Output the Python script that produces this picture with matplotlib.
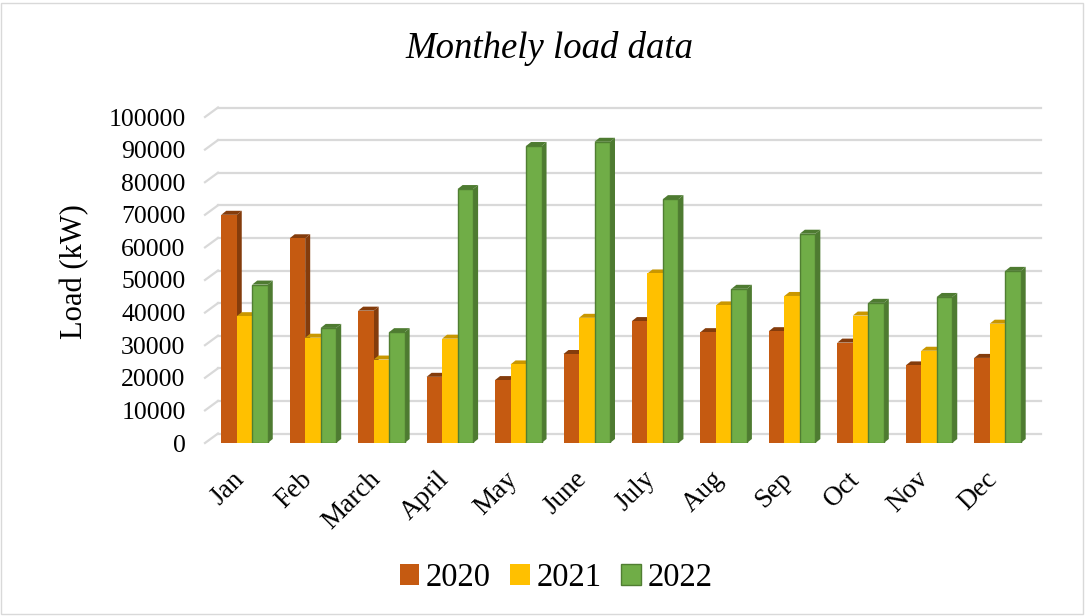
import numpy as np
import matplotlib.pyplot as plt
from matplotlib.patches import Rectangle
from matplotlib.transforms import ScaledTranslation

# monthly load values (kW)
months = ['Jan', 'Feb', 'March', 'April', 'May', 'June', 'July', 'Aug', 'Sep', 'Oct', 'Nov', 'Dec']
load_2020 = [70000, 62800, 40600, 20300, 19300, 27300, 37400, 34000, 34300, 30800, 23800, 26100]
load_2021 = [38900, 32300, 25600, 32000, 24100, 38400, 52000, 42200, 45100, 39100, 28300, 36600]
load_2022 = [48600, 35300, 34000, 77900, 91100, 92400, 74800, 47300, 64200, 43000, 44800, 52800]
years = ['2020', '2021', '2022']
yticks = list(range(0, 100001, 10000))

front_col = ['#C55A11', '#FFC000', '#70AD47']
side_col = ['#843C0C', '#C99700', '#4E7B31']
edge_col = ['#C55A11', '#FFC000', '#507E32']

serif = ['Liberation Serif', 'DejaVu Serif']
plt.rcParams['font.family'] = serif

W, H = 1086, 616
fig = plt.figure(figsize=(W / 100, H / 100), dpi=100)

# pixel geometry of the plot
px_x = 68.45          # pixels per category
px_y = 3.26 / 1000    # pixels per kW
x0_px = 244.5         # centre of first group
left_px, right_px = 205, 1041
bot_px, top_px = 443, 100

ax = fig.add_axes([left_px / W, 1 - bot_px / H, (right_px - left_px) / W, (bot_px - top_px) / H])
xlo = (left_px - x0_px) / px_x
ax.set_xlim(xlo, xlo + (right_px - left_px) / px_x)
ax.set_ylim(0, (bot_px - top_px) / px_y)

def xd(px):
    return (px - x0_px) / px_x

# gridlines with the 3d back wall look
gdx = 13 / px_x
gdy = 9.5 / px_y
for v in yticks:
    ax.plot([xd(left_px) + gdx, xd(right_px)], [v + gdy, v + gdy], color='#d9d9d9', lw=1.6, zorder=1, clip_on=False)
    ax.plot([xd(left_px), xd(left_px) + gdx], [v, v + gdy], color='#d9d9d9', lw=1.6, zorder=1, clip_on=False)

# bars with side and top faces
bw = 15.5 / px_x
ddx = 5 / px_x
ddy = 4 / px_y
x = np.arange(len(months))
series = [load_2020, load_2021, load_2022]
for i, vals in enumerate(series):
    xs = x + (i - 1) * bw
    for xc, v in zip(xs, vals):
        l, r = xc - bw / 2, xc + bw / 2
        z = 3 + i * 0.1
        ax.fill([r, r + ddx, r + ddx, r], [0, ddy, v + ddy, v], color=side_col[i], zorder=z, lw=0)
        ax.fill([l, l + ddx, r + ddx, r], [v, v + ddy, v + ddy, v], color=side_col[i], zorder=z, lw=0)
    ax.bar(xs, vals, width=bw, color=front_col[i], edgecolor=edge_col[i],
           linewidth=1.0 if i == 2 else 0, zorder=3 + i * 0.1 + 0.05, label=years[i])

for s in ax.spines.values():
    s.set_visible(False)
ax.set_yticks(yticks)
ax.set_yticklabels([str(v) for v in yticks], fontsize=18.5)
ax.tick_params(axis='y', length=0, pad=14)
ax.set_xticks(x)
ax.set_xticklabels(months, fontsize=19.5, rotation=45, ha='right', rotation_mode='anchor')
ax.tick_params(axis='x', length=0, pad=17)
shift = ScaledTranslation(-13 / 100, 0, fig.dpi_scale_trans)
for lab in ax.get_xticklabels():
    lab.set_transform(lab.get_transform() + shift)
ax.set_ylabel('Load (kW)', fontsize=22, labelpad=14)

fig.text(549 / W, 1 - 48 / H, 'Monthely load data', fontsize=26.5, style='italic', ha='center', va='center')

leg = fig.legend(loc='center', bbox_to_anchor=(556 / W, 1 - 578 / H), ncol=3, frameon=False,
                 fontsize=23.5, handlelength=0.6, handleheight=0.6, handletextpad=0.2, columnspacing=0.6)

fig.add_artist(Rectangle((1 / W, 2 / H), 1 - 4 / W, 1 - 5 / H, transform=fig.transFigure,
                         fill=False, edgecolor='#d9d9d9', lw=1))

fig.savefig('out.png', dpi=100)
